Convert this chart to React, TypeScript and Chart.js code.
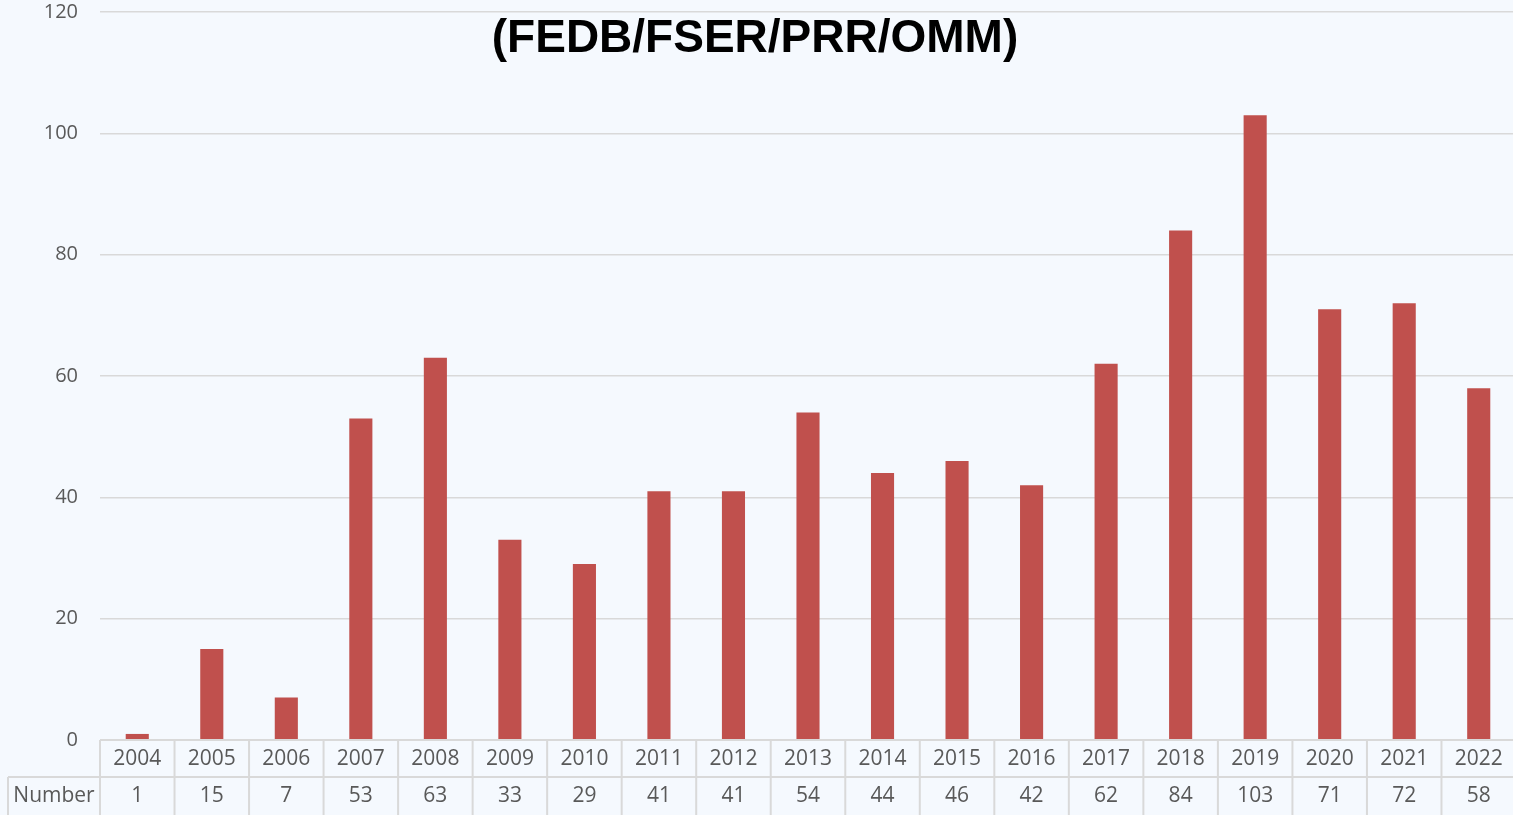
import React, { useEffect, useRef } from "react";
import { Chart, registerables } from "chart.js";

Chart.register(...registerables);

const years = ["2004", "2005", "2006", "2007", "2008", "2009", "2010", "2011", "2012", "2013", "2014", "2015", "2016", "2017", "2018", "2019", "2020", "2021", "2022"];
const counts = [1, 15, 7, 53, 63, 33, 29, 41, 41, 54, 44, 46, 42, 62, 84, 103, 71, 72, 58];
const rowLabel = "Number";
const titleText = "(FEDB/FSER/PRR/OMM)";
const yMin = 0;
const yMax = 120;
const yStep = 20;

const BG = "#f5f9fe";
const GRID = "#d9d9d9";
const TEXT = "#595959";
const BAR = "#c0504d";
const FONT = "'Open Sans', sans-serif";

const tablePlugin = {
  id: "dataTable",
  afterDraw(chart: any) {
    const { ctx, chartArea } = chart;
    const x = chart.scales.x;
    const n = years.length;
    const w = (chartArea.right - chartArea.left) / n;
    const top = chartArea.bottom;
    const mid = top + 37;
    const bot = top + 76;
    ctx.save();
    ctx.strokeStyle = GRID;
    ctx.lineWidth = 2;
    ctx.beginPath();
    ctx.moveTo(chartArea.left, top);
    ctx.lineTo(chartArea.right, top);
    ctx.moveTo(8, mid);
    ctx.lineTo(chartArea.right, mid);
    for (let i = 0; i <= n; i++) {
      const px = chartArea.left + i * w;
      ctx.moveTo(px, top);
      ctx.lineTo(px, bot);
    }
    ctx.moveTo(8, mid);
    ctx.lineTo(8, bot);
    ctx.stroke();

    ctx.fillStyle = TEXT;
    ctx.font = `21px ${FONT}`;
    ctx.textAlign = "center";
    ctx.textBaseline = "middle";
    for (let i = 0; i < n; i++) {
      const cx = x.getPixelForValue(i);
      ctx.fillText(years[i], cx, top + 19);
      ctx.fillText(String(counts[i]), cx, mid + 19);
    }
    ctx.fillText(rowLabel, (8 + chartArea.left) / 2, mid + 19);

    ctx.fillStyle = "#000";
    ctx.font = `bold 46px 'Liberation Sans', Arial, sans-serif`;
    ctx.textBaseline = "alphabetic";
    ctx.fillText(titleText, 755, 52);
    ctx.restore();
  },
};

export default function App() {
  const ref = useRef<HTMLCanvasElement>(null);
  useEffect(() => {
    document.body.style.margin = "0";
    const chart = new Chart(ref.current as HTMLCanvasElement, {
      type: "bar",
      data: {
        labels: years,
        datasets: [
          {
            label: rowLabel,
            data: counts,
            backgroundColor: BAR,
            barPercentage: 0.31,
            categoryPercentage: 1,
          },
        ],
      },
      options: {
        responsive: false,
        animation: false,
        layout: { padding: { left: 0, right: 0, top: 0, bottom: 75 } },
        plugins: {
          legend: { display: false },
          title: { display: false },
          tooltip: { enabled: false },
        },
        scales: {
          x: { display: false },
          y: {
            min: yMin,
            max: yMax,
            ticks: { stepSize: yStep, color: TEXT, font: { family: FONT, size: 20 }, padding: 22 },
            grid: { color: GRID, lineWidth: 1.5, drawTicks: false },
            border: { display: false },
            afterFit(scale: any) {
              scale.width = 100;
              scale.paddingTop = 12;
              scale.paddingBottom = 12;
            },
          },
        },
      },
      plugins: [tablePlugin],
    });
    return () => chart.destroy();
  }, []);
  return (
    <div style={{ position: "fixed", left: 0, top: 0, width: 1513, height: 815, overflow: "hidden", background: BG }}>
      <canvas ref={ref} width={1516} height={815} style={{ display: "block" }} />
    </div>
  );
}
